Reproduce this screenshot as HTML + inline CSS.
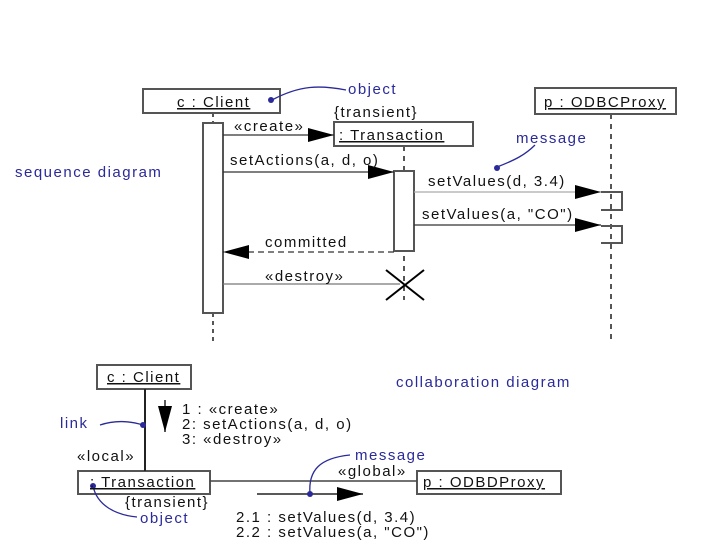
<!DOCTYPE html>
<html><head><meta charset="utf-8"><style>
body{margin:0;background:#fff}
svg{display:block}
text{font-family:"Liberation Sans",sans-serif;font-size:15px;letter-spacing:1.5px;fill:#111}
.b{fill:#2a2a9a}
</style></head><body>
<svg width="720" height="540" viewBox="0 0 720 540">
<defs>
<marker id="A" markerWidth="26" markerHeight="14" refX="26" refY="7" orient="auto" markerUnits="userSpaceOnUse"><path d="M0,0 L26,7 L0,14 Z" fill="#000"/></marker>
</defs>
<g fill="none" stroke="#555" stroke-width="2">
<rect x="143" y="89" width="137" height="24" fill="#fff"/>
<rect x="334" y="122" width="139" height="24" fill="#fff"/>
<rect x="535" y="88" width="141" height="26" fill="#fff"/>
<line x1="213" y1="113" x2="213" y2="123" stroke-dasharray="4,4"/>
<line x1="213" y1="313" x2="213" y2="342" stroke-dasharray="4,4"/>
<line x1="404" y1="146" x2="404" y2="300" stroke-dasharray="5,5"/>
<line x1="611" y1="114" x2="611" y2="342" stroke-dasharray="5,5"/>
<rect x="203" y="123" width="20" height="190" fill="#fff"/>
<rect x="394" y="171" width="20" height="80" fill="#fff"/>
<polyline points="601,192 622,192 622,210 601,210"/>
<polyline points="601,226 622,226 622,243 601,243"/>
</g>
<g stroke="#333" stroke-width="1.3" fill="none">
<line x1="223" y1="135" x2="334" y2="135" marker-end="url(#A)"/>
<line x1="223" y1="172" x2="394" y2="172" marker-end="url(#A)"/>
<line x1="414" y1="192" x2="601" y2="192" stroke="#aaa" marker-end="url(#A)"/>
<line x1="414" y1="225" x2="601" y2="225" marker-end="url(#A)"/>
<line x1="394" y1="252" x2="223" y2="252" stroke-dasharray="6,4" marker-end="url(#A)"/>
<line x1="223" y1="284" x2="400" y2="284" stroke="#777"/>
<line x1="386" y1="270" x2="424" y2="300" stroke="#000" stroke-width="2"/>
<line x1="424" y1="270" x2="386" y2="300" stroke="#000" stroke-width="2"/>
<path d="M272,100 C300,85 320,85 346,90" stroke="#2a2a9a"/>
<path d="M497,167 C515,160 525,155 535,145" stroke="#2a2a9a"/>
</g>
<circle cx="271" cy="100" r="3" fill="#2a2a9a"/>
<circle cx="497" cy="168" r="3" fill="#2a2a9a"/>
<text x="177" y="107" text-decoration="underline">c : Client</text>
<text x="348" y="94" class="b">object</text>
<text x="334" y="117">{transient}</text>
<text x="339" y="140" text-decoration="underline">: Transaction</text>
<text x="544" y="107" text-decoration="underline">p : ODBCProxy</text>
<text x="516" y="143" class="b">message</text>
<text x="15" y="177" class="b">sequence diagram</text>
<text x="234" y="131">«create»</text>
<text x="230" y="165">setActions(a, d, o)</text>
<text x="428" y="186">setValues(d, 3.4)</text>
<text x="422" y="219">setValues(a, "CO")</text>
<text x="265" y="247">committed</text>
<text x="265" y="281">«destroy»</text>
<g fill="#fff" stroke="#555" stroke-width="2">
<rect x="97" y="365" width="94" height="24"/>
<rect x="78" y="471" width="132" height="23"/>
<rect x="417" y="471" width="144" height="23"/>
</g>
<g stroke="#222" stroke-width="2" fill="none">
<line x1="145" y1="389" x2="145" y2="471"/>
<line x1="210" y1="481" x2="417" y2="481" stroke-width="1.5" stroke="#444"/>
<line x1="165" y1="400" x2="165" y2="432" marker-end="url(#A)" stroke-width="1.5"/>
<line x1="257" y1="494" x2="363" y2="494" marker-end="url(#A)" stroke-width="1.5"/>
</g>
<g stroke="#2a2a9a" stroke-width="1.3" fill="none">
<path d="M100,425 C115,420 130,421 143,425"/>
<path d="M310,494 C308,470 320,458 350,455"/>
<path d="M93,486 C97,505 115,515 137,517"/>
</g>
<circle cx="143" cy="425" r="3" fill="#2a2a9a"/>
<circle cx="310" cy="494" r="3" fill="#2a2a9a"/>
<circle cx="93" cy="486" r="3" fill="#2a2a9a"/>
<text x="107" y="382" text-decoration="underline">c : Client</text>
<text x="396" y="387" class="b">collaboration diagram</text>
<text x="182" y="414">1 : «create»</text>
<text x="182" y="429">2: setActions(a, d, o)</text>
<text x="182" y="444">3: «destroy»</text>
<text x="60" y="428" class="b">link</text>
<text x="77" y="461">«local»</text>
<text x="90" y="487" text-decoration="underline">: Transaction</text>
<text x="355" y="460" class="b">message</text>
<text x="338" y="476">«global»</text>
<text x="423" y="487" text-decoration="underline">p : ODBDProxy</text>
<text x="125" y="507">{transient}</text>
<text x="140" y="523" class="b">object</text>
<text x="236" y="522">2.1 : setValues(d, 3.4)</text>
<text x="236" y="537">2.2 : setValues(a, "CO")</text>
</svg>
</body></html>
